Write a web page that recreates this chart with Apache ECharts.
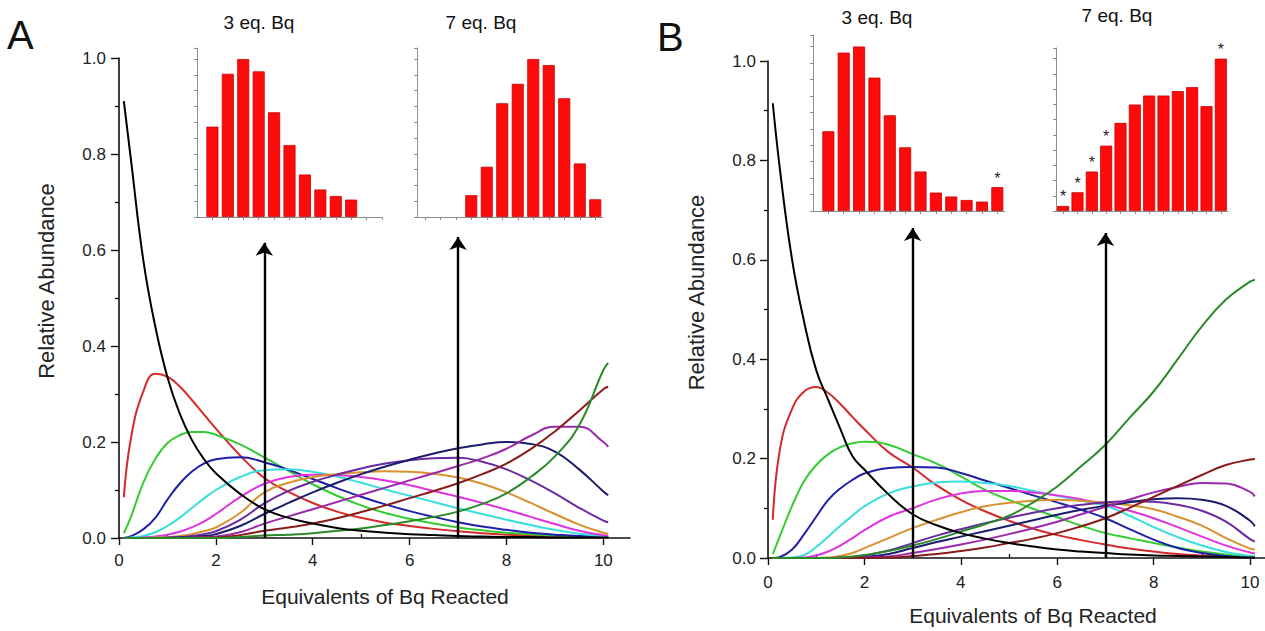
<!DOCTYPE html>
<html>
<head>
<meta charset="utf-8">
<script src="https://cdn.jsdelivr.net/npm/echarts@6.0.0/dist/echarts.min.js"></script>
<style>
html,body{margin:0;padding:0;background:#fff;}
#chart{width:1265px;height:631px;}
</style>
</head>
<body>
<div id="chart"></div>
<script>
// ---------- DATA ----------
const xs = [0.1,0.25,0.5,0.75,1,1.25,1.5,1.75,2,2.5,3,3.5,4,4.5,5,5.5,6,6.5,7,7.5,8,8.5,9,9.5,10,10.1];

// Panel A curves (species with 0..11 Bq adducts)
const A0  = [0.91,0.785,0.58,0.44,0.335,0.26,0.205,0.165,0.135,0.092,0.06,0.042,0.03,0.021,0.015,0.011,0.008,0.006,0.004,0.003,0.002,0.002,0.001,0.001,0.001,0.001];
const A1  = [0.085,0.21,0.305,0.342,0.336,0.316,0.288,0.258,0.228,0.172,0.125,0.096,0.073,0.055,0.042,0.032,0.025,0.019,0.014,0.01,0.007,0.005,0.003,0.002,0.001,0.001];
const A2  = [0.01,0.045,0.115,0.165,0.198,0.214,0.221,0.221,0.215,0.195,0.168,0.14,0.112,0.088,0.068,0.052,0.04,0.03,0.022,0.016,0.011,0.008,0.005,0.003,0.002,0.002];
const A3  = [0,0.004,0.018,0.042,0.08,0.113,0.138,0.155,0.164,0.168,0.158,0.142,0.123,0.104,0.086,0.07,0.056,0.044,0.033,0.024,0.017,0.011,0.007,0.004,0.003,0.002];
const A4  = [0,0.001,0.004,0.012,0.025,0.042,0.062,0.082,0.1,0.127,0.141,0.143,0.138,0.128,0.115,0.101,0.088,0.075,0.062,0.05,0.038,0.027,0.017,0.009,0.004,0.003];
const A5  = [0,0,0.001,0.003,0.007,0.013,0.022,0.034,0.05,0.085,0.113,0.127,0.132,0.131,0.127,0.12,0.11,0.098,0.086,0.073,0.059,0.044,0.029,0.015,0.006,0.005];
const A6  = [0,0,0,0.001,0.002,0.004,0.008,0.014,0.022,0.052,0.095,0.115,0.127,0.133,0.137,0.139,0.138,0.134,0.126,0.113,0.095,0.073,0.05,0.028,0.011,0.009];
const A7  = [0,0,0,0,0.001,0.002,0.004,0.008,0.014,0.038,0.072,0.098,0.117,0.132,0.145,0.155,0.162,0.166,0.167,0.159,0.143,0.12,0.093,0.063,0.036,0.033];
const A8  = [0,0,0,0,0,0.001,0.002,0.004,0.008,0.025,0.05,0.073,0.095,0.115,0.133,0.149,0.163,0.176,0.187,0.195,0.2,0.196,0.18,0.143,0.097,0.089];
const A9  = [0,0,0,0,0,0,0.001,0.002,0.003,0.012,0.03,0.045,0.06,0.075,0.09,0.105,0.12,0.135,0.15,0.166,0.186,0.213,0.232,0.232,0.2,0.19];
const A10 = [0,0,0,0,0,0,0,0.001,0.001,0.006,0.015,0.022,0.03,0.041,0.054,0.068,0.083,0.098,0.114,0.133,0.155,0.185,0.222,0.265,0.31,0.315];
const A11 = [0,0,0,0,0,0,0,0,0,0.002,0.005,0.007,0.01,0.015,0.02,0.027,0.035,0.044,0.055,0.071,0.093,0.127,0.17,0.235,0.35,0.365];

// Panel B curves
const B0  = [0.915,0.78,0.6,0.475,0.378,0.318,0.26,0.205,0.178,0.128,0.088,0.066,0.05,0.039,0.03,0.023,0.017,0.013,0.01,0.007,0.005,0.004,0.003,0.002,0.001,0.001];
const B1  = [0.077,0.22,0.3,0.335,0.344,0.332,0.31,0.284,0.259,0.213,0.182,0.146,0.117,0.094,0.075,0.059,0.046,0.036,0.027,0.019,0.013,0.008,0.005,0.003,0.001,0.001];
const B2  = [0.008,0.045,0.105,0.155,0.187,0.209,0.223,0.231,0.234,0.228,0.209,0.19,0.164,0.137,0.117,0.099,0.082,0.065,0.05,0.04,0.03,0.021,0.013,0.007,0.003,0.003];
const B3  = [0,0.002,0.017,0.048,0.083,0.117,0.14,0.157,0.17,0.181,0.183,0.182,0.171,0.156,0.141,0.126,0.112,0.097,0.08,0.058,0.037,0.02,0.01,0.004,0.001,0.001];
const B4  = [0,0,0.001,0.006,0.022,0.043,0.065,0.085,0.104,0.13,0.144,0.152,0.154,0.151,0.145,0.135,0.125,0.115,0.105,0.085,0.062,0.042,0.025,0.012,0.004,0.003];
const B5  = [0,0,0,0.001,0.005,0.013,0.025,0.04,0.056,0.083,0.1,0.118,0.13,0.135,0.135,0.132,0.126,0.118,0.108,0.095,0.08,0.062,0.043,0.025,0.011,0.009];
const B6  = [0,0,0,0,0,0.001,0.004,0.01,0.02,0.04,0.06,0.077,0.092,0.104,0.111,0.115,0.117,0.115,0.111,0.106,0.098,0.083,0.065,0.04,0.019,0.017];
const B7  = [0,0,0,0,0,0,0.001,0.002,0.005,0.015,0.03,0.045,0.058,0.07,0.081,0.091,0.1,0.107,0.112,0.114,0.113,0.107,0.095,0.073,0.038,0.033];
const B8  = [0,0,0,0,0,0,0,0.001,0.002,0.008,0.02,0.032,0.043,0.054,0.065,0.076,0.087,0.097,0.105,0.112,0.118,0.12,0.117,0.105,0.075,0.064];
const B9  = [0,0,0,0,0,0,0,0,0.001,0.003,0.01,0.018,0.027,0.037,0.048,0.06,0.073,0.088,0.103,0.118,0.132,0.143,0.151,0.15,0.133,0.124];
const B10 = [0,0,0,0,0,0,0,0,0,0.001,0.004,0.008,0.014,0.021,0.03,0.039,0.05,0.064,0.08,0.101,0.123,0.145,0.167,0.187,0.198,0.199];
const B11 = [0,0,0,0,0,0,0.001,0.003,0.006,0.014,0.025,0.038,0.053,0.068,0.085,0.112,0.144,0.185,0.228,0.282,0.335,0.4,0.466,0.52,0.556,0.56];

const curveColors = ['#000000','#d42a2a','#33cc33','#1f1fa8','#38dede','#e033e0','#d9902f','#6a2aa0','#1c1c6c','#9a2aaa','#8a1a1a','#2a8a2a'];

// Inset bar charts (relative abundance, species index)
const insetA3Start = 0;
const insetA3 = [0.572,0.907,1.0,0.922,0.663,0.456,0.269,0.174,0.133,0.110];
const insetA7Start = 3;
const insetA7 = [0.138,0.318,0.72,0.843,1.0,0.962,0.752,0.339,0.112];
const insetB3Start = 0;
const insetB3 = [0.485,0.963,1.0,0.811,0.582,0.387,0.24,0.112,0.088,0.067,0.057,0.145];
const insetB3Stars = [11];
const insetB7Start = 0;
const insetB7 = [0.033,0.123,0.259,0.429,0.578,0.699,0.758,0.758,0.787,0.813,0.688,1.0];
const insetB7Stars = [0,1,2,3,11];
const insetSlots = [0,1,2,3,4,5,6,7,8,9,10,11];

// Arrows: [equivalents, tip height]
const arrowsA = [[3,0.615],[7,0.627]];
const arrowsB = [[3,0.664],[7,0.654]];

// Tick labels
const xMajorTicks = [0,2,4,6,8,10];
const xMinorTicks = [1,3,5,7,9];

// ---------- CHART ----------
const FONT = "'Liberation Sans', Arial, Helvetica, sans-serif";
const curvesA = [A0,A1,A2,A3,A4,A5,A6,A7,A8,A9,A10,A11];
const curvesB = [B0,B1,B2,B3,B4,B5,B6,B7,B8,B9,B10,B11];
const pairs = ys => xs.map((x,i)=>[x, ys[i]]);

function gridBox(l,t,w,h){ return {left:l, top:t, width:w, height:h, containLabel:false, outerBoundsMode:'none'}; }

function mainX(g, max, nameGap, namePad, margin){
  return {gridIndex:g, type:'value', min:0, max:max, position:'bottom',
    name:'Equivalents of Bq Reacted', nameLocation:'middle', nameGap:nameGap,
    nameTextStyle:{fontSize:21, color:'#222', fontFamily:FONT, padding:[0,0,0,namePad]},
    axisLine:{show:true, onZero:false, lineStyle:{color:'#111', width:1.6}},
    axisTick:{show:true, customValues:xMajorTicks, length:7, lineStyle:{color:'#111', width:1.4}},
    axisLabel:{show:true, customValues:xMajorTicks, margin:margin, fontSize:17, color:'#222', fontFamily:FONT},
    splitLine:{show:false}, minorTick:{show:false}};
}
function minorX(g, max){
  return {gridIndex:g, type:'value', min:0, max:max, position:'bottom',
    axisLine:{show:false, onZero:false},
    axisTick:{show:true, inside:true, customValues:xMinorTicks, length:4, lineStyle:{color:'#111', width:1.3}},
    axisLabel:{show:false}, splitLine:{show:false}};
}
function mainY(g, nameGap, margin){
  return {gridIndex:g, type:'value', min:0, max:1, interval:0.2,
    name:'Relative Abundance', nameLocation:'middle', nameGap:nameGap,
    nameTextStyle:{fontSize:22, color:'#222', fontFamily:FONT, padding:[0,0,0,34]},
    axisLine:{show:true, onZero:false, lineStyle:{color:'#111', width:1.6}},
    axisTick:{show:true, length:8, lineStyle:{color:'#111', width:1.4}},
    minorTick:{show:true, splitNumber:2, length:4, lineStyle:{color:'#111', width:1.3}},
    axisLabel:{margin:margin, fontSize:17, color:'#222', fontFamily:FONT, formatter:v=>v.toFixed(1)},
    splitLine:{show:false}, minorSplitLine:{show:false}};
}
function insetX(g, min, max){
  return {gridIndex:g, type:'value', min:min, max:max,
    axisLine:{show:true, onZero:false, lineStyle:{color:'#8c8c8c', width:1}},
    axisTick:{show:true, customValues:insetSlots, length:3, lineStyle:{color:'#8c8c8c', width:1}},
    axisLabel:{show:false}, splitLine:{show:false}};
}
function insetY(g){
  return {gridIndex:g, type:'value', min:0, max:1.07, interval:0.1,
    axisLine:{show:true, onZero:false, lineStyle:{color:'#8c8c8c', width:1}},
    axisTick:{show:true, length:3, lineStyle:{color:'#8c8c8c', width:1}},
    axisLabel:{show:false}, splitLine:{show:false}};
}

function curveSeries(list, axisIdx, arrows){
  return list.map((ys,i)=>{
    const s = {type:'line', xAxisIndex:axisIdx, yAxisIndex:axisIdx, data:pairs(ys),
      showSymbol:false, symbol:'none', smooth:0.45, silent:true,
      lineStyle:{width:2, color:curveColors[i]}, itemStyle:{color:curveColors[i]}, z:2};
    if(i===0){
      s.markLine = {silent:true, symbol:['none','arrow'], symbolSize:13, label:{show:false},
        lineStyle:{color:'#000', width:2.4, type:'solid'}, emphasis:{disabled:true},
        data: arrows.map(([x,y])=>[{coord:[x,0]},{coord:[x,y]}])};
      s.z = 3;
    }
    return s;
  });
}
function barSeries(axX, axY, start, vals, stars){
  return {type:'bar', xAxisIndex:axX, yAxisIndex:axY, barWidth:12, silent:true,
    itemStyle:{color:'#ff0a0a', borderColor:'#c60000', borderWidth:0.8},
    data: vals.map((v,i)=>{
      const k = start+i;
      const item = {value:[k,v]};
      if(stars && stars.indexOf(k)>=0){
        item.label = {show:true, position:'top', distance:1, formatter:'*', fontSize:16, color:'#222', fontFamily:FONT};
      }
      return item;
    })};
}

const tStyle = (s)=>({fontSize:s, fontWeight:'normal', color:'#111', fontFamily:FONT});

const option = {
  animation:false,
  backgroundColor:'#ffffff',
  title:[
    {text:'A', left:7, top:15, padding:0, textAlign:'left', textVerticalAlign:'top', textStyle:tStyle(40)},
    {text:'B', left:657, top:17, padding:0, textAlign:'left', textVerticalAlign:'top', textStyle:tStyle(40)},
    {text:'3 eq. Bq', left:259, top:13, padding:0, textAlign:'center', textVerticalAlign:'top', textStyle:tStyle(19)},
    {text:'7 eq. Bq', left:481, top:13, padding:0, textAlign:'center', textVerticalAlign:'top', textStyle:tStyle(19)},
    {text:'3 eq. Bq', left:877, top:8, padding:0, textAlign:'center', textVerticalAlign:'top', textStyle:tStyle(19)},
    {text:'7 eq. Bq', left:1117, top:6, padding:0, textAlign:'center', textVerticalAlign:'top', textStyle:tStyle(19)}
  ],
  grid:[
    gridBox(119,58,511,480),
    gridBox(768,61,497,497),
    gridBox(197,48,185,169),
    gridBox(417,48,186,169),
    gridBox(813,35,192,176),
    gridBox(1056,48,172,163)
  ],
  xAxis:[
    mainX(0, 10.55, 48, 21, 14),
    mainX(1, 10.31, 47, 33, 16),
    minorX(0, 10.55),
    minorX(1, 10.31),
    insetX(2, -1, 11),
    insetX(3, -0.5, 11.5),
    insetX(4, -1, 11.5),
    insetX(5, -0.5, 11.5)
  ],
  yAxis:[
    mainY(0, 62, 13),
    mainY(1, 61, 12),
    insetY(2), insetY(3), insetY(4), insetY(5)
  ],
  series:[].concat(
    curveSeries(curvesA, 0, arrowsA),
    curveSeries(curvesB, 1, arrowsB),
    [
      barSeries(4,2,insetA3Start,insetA3,null),
      barSeries(5,3,insetA7Start,insetA7,null),
      barSeries(6,4,insetB3Start,insetB3,insetB3Stars),
      barSeries(7,5,insetB7Start,insetB7,insetB7Stars)
    ]
  )
};

const chart = echarts.init(document.getElementById('chart'), null, {renderer:'svg'});
chart.setOption(option);
</script>
</body>
</html>
